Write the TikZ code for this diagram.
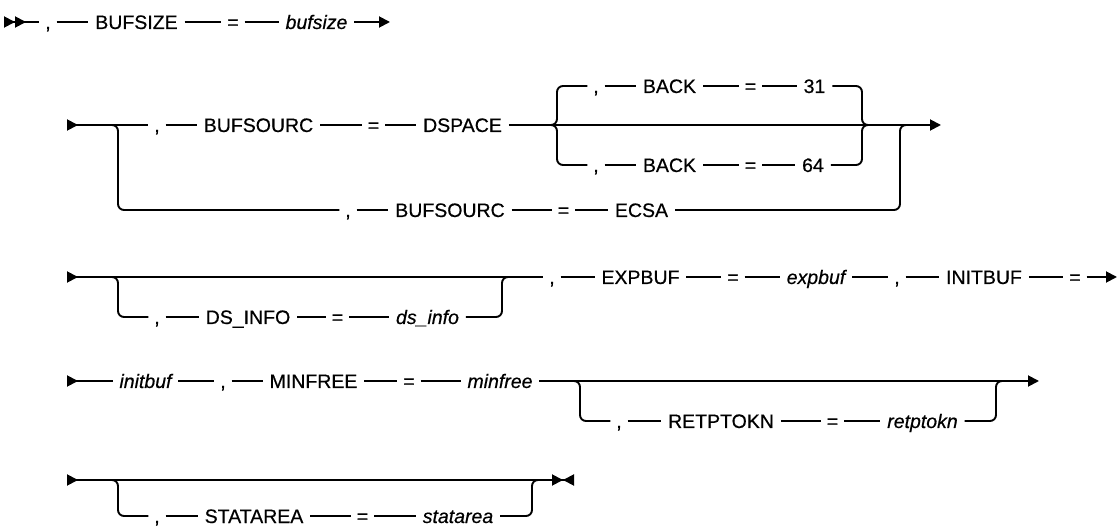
\documentclass[tikz,border=0pt]{standalone}
\usepackage{fontspec}
\setmainfont{Liberation Sans}[FakeBold=0.5]
\usetikzlibrary{arrows.meta}

\begin{document}
\begin{tikzpicture}[x=1pt,y=-1pt,line width=1.9pt,
    >={Triangle[length=11pt,width=11pt]},
    kw/.style={inner xsep=6pt,inner ysep=0pt,text height=14pt,text depth=0pt,
      font=\fontsize{19.5}{23}\selectfont},
    var/.style={kw,font=\fontsize{19.5}{23}\selectfont\itshape},
    sym/.style={kw,inner xsep=5pt},
    branch/.style={rounded corners=6pt}]
    \useasboundingbox (0,0) rectangle (1117,529);

    \coordinate (r1s) at (4,22);
    \node[sym] (r1c) at (48,22) {,};
    \node[kw] (bufsize) at (136.5,22) {BUFSIZE};
    \node[sym] (r1eq) at (233,22) {=};
    \node[var] (bufsizev) at (316.5,22) {bufsize};
    \coordinate (r1e) at (390,22);
    \draw[>>-] (r1s) -- (r1c);
    \draw (r1c) -- (bufsize) -- (r1eq) -- (bufsizev);
    \draw[->] (bufsizev) -- (r1e);

    \coordinate (r2s) at (67,125);
    \coordinate (r2j) at (110,125);
    \node[sym] (r2c) at (157,125) {,};
    \node[kw] (bufsourc) at (258.5,125) {BUFSOURC};
    \node[sym] (r2eq) at (373.5,125) {=};
    \node[kw] (dspace) at (462.5,125) {DSPACE};
    \coordinate (bl) at (550,125);
    \coordinate (br) at (870,125);
    \coordinate (r2m) at (910,125);
    \coordinate (r2e) at (941,125);
    \node[sym] (b31c) at (596,86) {,};
    \node[kw] (back31) at (669.5,86) {BACK};
    \node[sym] (b31eq) at (750.5,86) {=};
    \node[kw] (v31) at (814.5,86) {31};
    \node[sym] (b64c) at (596,165) {,};
    \node[kw] (back64) at (669.5,165) {BACK};
    \node[sym] (b64eq) at (750.5,165) {=};
    \node[kw] (v64) at (813,165) {64};
    \node[sym] (ecc) at (348,210) {,};
    \node[kw] (bufsource) at (450,210) {BUFSOURC};
    \node[sym] (eceq) at (563.5,210) {=};
    \node[kw] (ecsa) at (641.5,210) {ECSA};
    \draw[>-] (r2s) -- (r2c);
    \draw (r2c) -- (bufsourc) -- (r2eq) -- (dspace) -- (bl) -- (br);
    \draw[->] (br) -- (r2e);
    \draw[branch] (bl) -- ++(7,0) |- (b31c);
    \draw[branch] (bl) -- ++(7,0) |- (b64c);
    \draw (b31c) -- (back31) -- (b31eq) -- (v31);
    \draw (b64c) -- (back64) -- (b64eq) -- (v64);
    \draw[branch] (v31) -| ([xshift=-8pt]br) -- (br);
    \draw[branch] (v64) -| ([xshift=-8pt]br) -- (br);
    \draw[branch] (r2j) -- ++(8,0) |- (ecc);
    \draw (ecc) -- (bufsource) -- (eceq) -- (ecsa);
    \draw[branch] (ecsa) -| ([xshift=-10pt]r2m) -- (r2m);

    \coordinate (r3s) at (67,277);
    \coordinate (r3j) at (110,277);
    \coordinate (r3m) at (510,277);
    \coordinate (r3e) at (1117,277);
    \node[sym] (dic) at (157,317) {,};
    \node[kw] (dsinfo) at (248,317) {DS\_INFO};
    \node[sym] (dieq) at (337.5,317) {=};
    \node[var] (dsinfov) at (427.5,317) {ds\_info};
    \node[sym] (r3c) at (552,277) {,};
    \node[kw] (expbuf) at (640.5,277) {EXPBUF};
    \node[sym] (r3eq) at (733,277) {=};
    \node[var] (expbufv) at (816,277) {expbuf};
    \node[sym] (r3c2) at (897,277) {,};
    \node[kw] (initbuf) at (984,277) {INITBUF};
    \node[sym] (r3eq2) at (1075,277) {=};
    \draw[>-] (r3s) -- (r3c);
    \draw[branch] (r3j) -- ++(8,0) |- (dic);
    \draw (dic) -- (dsinfo) -- (dieq) -- (dsinfov);
    \draw[branch] (dsinfov) -| ([xshift=-8pt]r3m) -- (r3m);
    \draw (r3c) -- (expbuf) -- (r3eq) -- (expbufv) -- (r3c2) -- (initbuf) -- (r3eq2);
    \draw[->] (r3eq2) -- (r3e);

    \coordinate (r4s) at (67,381);
    \coordinate (r4j) at (575,381);
    \coordinate (r4m) at (1004,381);
    \coordinate (r4e) at (1039,381);
    \node[var] (initbufv) at (145.5,381) {initbuf};
    \node[sym] (r4c) at (223,381) {,};
    \node[kw] (minfree) at (313.5,381) {MINFREE};
    \node[sym] (r4eq) at (409,381) {=};
    \node[var] (minfreev) at (500,381) {minfree};
    \node[sym] (rtc) at (619,421) {,};
    \node[kw] (retptokn) at (721,421) {RETPTOKN};
    \node[sym] (rteq) at (832.5,421) {=};
    \node[var] (retptoknv) at (922.5,421) {retptokn};
    \draw[>-] (r4s) -- (initbufv);
    \draw (initbufv) -- (r4c) -- (minfree) -- (r4eq) -- (minfreev);
    \draw[->] (minfreev) -- (r4e);
    \draw[branch] (r4j) -- ++(5,0) |- (rtc);
    \draw (rtc) -- (retptokn) -- (rteq) -- (retptoknv);
    \draw[branch] (retptoknv) -| ([xshift=-8pt]r4m) -- (r4m);

    \coordinate (r5s) at (67,480);
    \coordinate (r5j) at (110,480);
    \coordinate (r5m) at (540,480);
    \coordinate (r5e) at (574,480);
    \node[sym] (stc) at (157,516) {,};
    \node[kw] (statarea) at (254,516) {STATAREA};
    \node[sym] (steq) at (362.5,516) {=};
    \node[var] (statareav) at (458,516) {statarea};
    \draw[{>}-{><}] (r5s) -- (r5e);
    \draw[branch] (r5j) -- ++(8,0) |- (stc);
    \draw (stc) -- (statarea) -- (steq) -- (statareav);
    \draw[branch] (statareav) -| ([xshift=-8pt]r5m) -- (r5m);
\end{tikzpicture}
\end{document}
